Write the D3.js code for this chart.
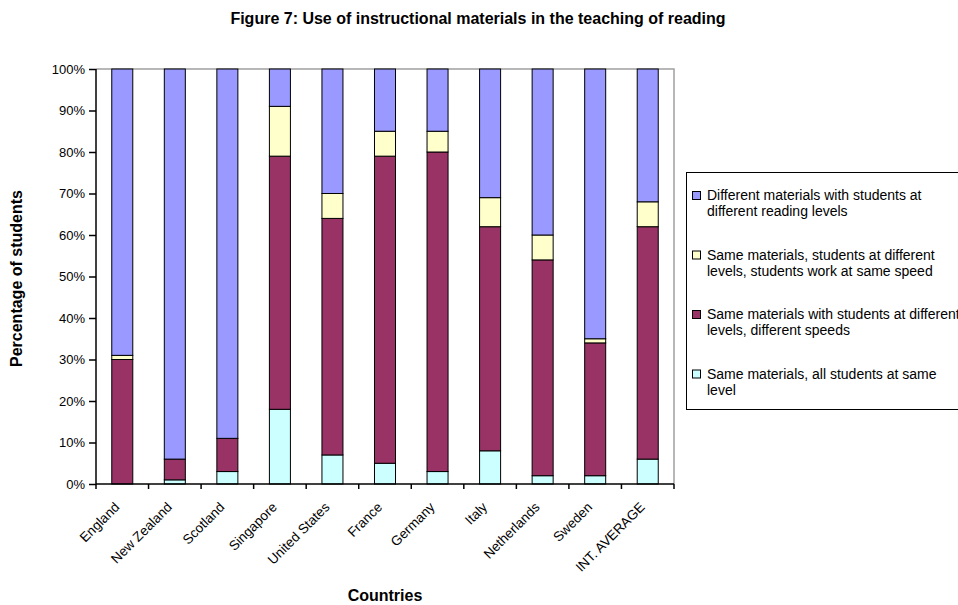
<!DOCTYPE html>
<html>
<head>
<meta charset="utf-8">
<script src="https://cdn.jsdelivr.net/npm/d3@7"></script>
<style>
  body { margin: 0; background: #fff; }
  svg { display: block; font-family: "Liberation Sans", Arial, sans-serif; }
</style>
</head>
<body>
<svg id="chart" width="958" height="605"></svg>
<script>
// data (percent of students)
const countries = ["England", "New Zealand", "Scotland", "Singapore", "United States",
  "France", "Germany", "Italy", "Netherlands", "Sweden", "INT. AVERAGE"]
const sameAll        = [0, 1, 3, 18, 7, 5, 3, 8, 2, 2, 6]
const sameDiffSpeeds = [30, 5, 8, 61, 57, 74, 77, 54, 52, 32, 56]
const sameSameSpeed  = [1, 0, 0, 12, 6, 6, 5, 7, 6, 1, 6]
const different      = [69, 94, 89, 9, 30, 15, 15, 31, 40, 65, 32]
const yTicks = [0, 10, 20, 30, 40, 50, 60, 70, 80, 90, 100]

const keys = ["sameAll", "sameDiffSpeeds", "sameSameSpeed", "different"]
const colors = { sameAll: "#CCFFFF", sameDiffSpeeds: "#993366", sameSameSpeed: "#FFFFCC", different: "#9999FF" }
const legendLines = {
  different: ["Different materials with students at", "different reading levels"],
  sameSameSpeed: ["Same materials, students at different", "levels, students work at same speed"],
  sameDiffSpeeds: ["Same materials with students at different", "levels, different speeds"],
  sameAll: ["Same materials, all students at same", "level"]
}

const table = countries.map((c, i) => ({
  country: c,
  sameAll: sameAll[i],
  sameDiffSpeeds: sameDiffSpeeds[i],
  sameSameSpeed: sameSameSpeed[i],
  different: different[i]
}))

const svg = d3.select('#chart')
const pLeft = 96, pRight = 674, pTop = 69, pBottom = 484

const x = d3.scaleBand().domain(countries).range([pLeft, pRight])
const y = d3.scaleLinear().domain([0, 100]).range([pBottom, pTop])
const barW = x.bandwidth() * 0.4

// title
svg.append('text')
  .attr('x', 478).attr('y', 24)
  .attr('text-anchor', 'middle')
  .style('font-size', '16px').style('font-weight', 'bold')
  .text('Figure 7: Use of instructional materials in the teaching of reading')

// plot area frame (grey top/right)
svg.append('path')
  .attr('d', `M${pLeft},${pTop}H${pRight}V${pBottom}`)
  .attr('fill', 'none').attr('stroke', '#a0a0a0').attr('stroke-width', 1.5)

const stacked = d3.stack().keys(keys)(table)

svg.append('g').selectAll('g')
  .data(stacked)
  .enter()
  .append('g')
  .attr('fill', d => colors[d.key])
  .selectAll('rect')
  .data(d => d)
  .enter()
  .append('rect')
  .attr('x', d => x(d.data.country) + (x.bandwidth() - barW) / 2)
  .attr('y', d => y(d[1]))
  .attr('width', barW)
  .attr('height', d => y(d[0]) - y(d[1]))
  .attr('stroke', '#000')
  .attr('stroke-width', 1)
  .attr('display', d => d[1] - d[0] > 0 ? null : 'none')

// y axis
const yAxis = d3.axisLeft(y).tickValues(yTicks).tickFormat(d => d + '%').tickSize(7).tickPadding(4)
const gy = svg.append('g').attr('transform', `translate(${pLeft},0)`).call(yAxis)
gy.select('.domain').attr('stroke', '#000').attr('stroke-width', 1.5).attr('d', `M0,${pTop}V${pBottom}`)
gy.selectAll('.tick line').attr('stroke', '#000').attr('stroke-width', 1.5)
gy.selectAll('.tick text').style('font-size', '13px').style('font-family', '"Liberation Sans", Arial, sans-serif').attr('fill', '#000')

// x axis: ticks at band boundaries
const gx = svg.append('g').attr('transform', `translate(0,${pBottom})`)
gx.append('path').attr('d', `M${pLeft},0H${pRight}`).attr('stroke', '#000').attr('stroke-width', 1.5)
gx.selectAll('line.tk')
  .data(countries.concat(['__end']))
  .enter()
  .append('line')
  .attr('x1', (d, i) => pLeft + i * x.step())
  .attr('x2', (d, i) => pLeft + i * x.step())
  .attr('y1', 0).attr('y2', 5)
  .attr('stroke', '#000').attr('stroke-width', 1.5)

gx.selectAll('text')
  .data(countries)
  .enter()
  .append('text')
  .attr('transform', d => `translate(${x(d) + x.bandwidth() / 2 - 2},${24}) rotate(-45)`)
  .attr('text-anchor', 'end')
  .style('font-size', '13.5px')
  .text(d => d)

// axis titles
svg.append('text')
  .attr('transform', `translate(22,${(pTop + pBottom) / 2 + 2}) rotate(-90)`)
  .attr('text-anchor', 'middle')
  .style('font-size', '16px').style('font-weight', 'bold')
  .text('Percentage of students')

svg.append('text')
  .attr('x', (pLeft + pRight) / 2).attr('y', 601)
  .attr('text-anchor', 'middle')
  .style('font-size', '16px').style('font-weight', 'bold')
  .text('Countries')

// legend
const lg = svg.append('g')
lg.append('rect')
  .attr('x', 686.5).attr('y', 172.5).attr('width', 300).attr('height', 237)
  .attr('fill', '#fff').attr('stroke', '#000').attr('stroke-width', 1)

const legendKeys = keys.slice().reverse()
const item = lg.selectAll('g.item')
  .data(legendKeys)
  .enter()
  .append('g')
  .attr('transform', (d, i) => `translate(692,${195 + i * 59.5})`)

item.append('rect')
  .attr('x', 0.5).attr('y', -3.5).attr('width', 8).attr('height', 8)
  .attr('fill', d => colors[d]).attr('stroke', '#000').attr('stroke-width', 1)

item.append('text')
  .attr('x', 15).attr('y', 5)
  .style('font-size', '14px')
  .selectAll('tspan')
  .data(d => legendLines[d])
  .enter()
  .append('tspan')
  .attr('x', 15)
  .attr('dy', (d, i) => i === 0 ? 0 : 16)
  .text(d => d)
</script>
</body>
</html>
